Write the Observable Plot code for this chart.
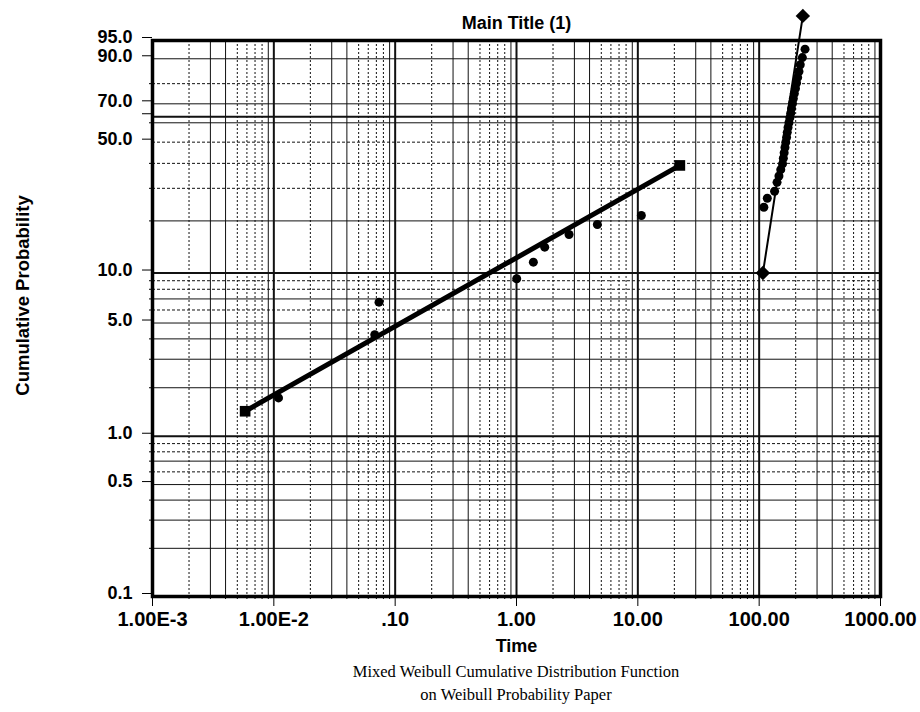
<!DOCTYPE html>
<html>
<head>
<meta charset="utf-8">
<script src="https://cdn.jsdelivr.net/npm/d3@7"></script>
<script src="https://cdn.jsdelivr.net/npm/@observablehq/plot@0.6"></script>
<style>
  html, body { margin: 0; padding: 0; background: #fff; }
  #chart { width: 920px; }
  .caption {
    width: 808px;
    padding-left: 112px;
    text-align: center;
    font-family: "Liberation Serif", "Times New Roman", serif;
    font-size: 16.5px;
    line-height: 23px;
    color: #000;
  }
</style>
</head>
<body>
<div id="chart"></div>
<div class="caption">Mixed Weibull Cumulative Distribution Function<br>on Weibull Probability Paper</div>
<script>
// Failure times and cumulative probabilities (%), early-failure subpopulation
const earlyTime = [0.01093, 0.0679, 0.0736, 1.004, 1.377, 1.708, 2.71, 4.64, 10.69];
const earlyProb = [1.73, 4.24, 6.69, 9.25, 11.59, 14.18, 16.77, 19.10, 21.43];

// Wear-out subpopulation
const lateTime = [109.3, 116.7, 134.0, 140.4, 145.6, 150.6, 155.9, 158.2, 160.7, 163.2, 165.6,
  168.2, 170.4, 173.0, 176.0, 179.0, 182.1, 184.9, 188.1, 191.3, 195.0, 199.1, 203.3, 207.6,
  212.8, 218.1, 226.9, 238.8];
const lateProb = [23.80, 26.61, 28.98, 32.2, 34.7, 37.3, 39.8, 42.3, 44.8, 47.4, 49.9,
  52.4, 55.0, 57.5, 60.0, 62.6, 65.1, 67.6, 70.2, 72.7, 75.2, 77.7, 80.3, 82.8,
  85.3, 87.9, 90.4, 92.9];

// Fitted Weibull lines (end points)
const earlyFitTime = [0.0058, 22.2];
const earlyFitProb = [1.43, 39.1];
const lateFitTime = [107.3, 229.1];
const lateFitProb = [10.0, 98.6];

// Axis ticks and labels
const xTicks = [0.001, 0.01, 0.1, 1, 10, 100, 1000];
const xTickLabels = ["1.00E-3", "1.00E-2", ".10", "1.00", "10.00", "100.00", "1000.00"];
const yTicks = [0.1, 0.5, 1, 5, 10, 50, 70, 90, 95];
const yTickLabels = ["0.1", "0.5", "1.0", "5.0", "10.0", "50.0", "70.0", "90.0", "95.0"];

// Probability paper rulings (%)
const yGridSolid = [0.2, 0.3, 0.4, 0.5, 0.7, 2, 3, 4, 5, 7, 20, 60, 70, 90];
const yGridDotted = [0.6, 0.8, 0.9, 6, 8, 9, 30, 40, 50, 80];
const yGridHeavy = [1, 10, 63.2];
const xMinorSolid = [3, 4, 9];
const xMinorDotted = [2, 5, 6, 7, 8];

// Weibull probability transform
const wb = p => Math.log(-Math.log(1 - p / 100));

const decadesBelow = xTicks.slice(0, -1);
const minor = ks => decadesBelow.flatMap(d => ks.map(k => k * d));

const toRows = (ts, ps) => ts.map((t, i) => ({t, p: ps[i]}));
const early = toRows(earlyTime, earlyProb);
const late = toRows(lateTime, lateProb);
const earlyFit = toRows(earlyFitTime, earlyFitProb);
const lateFit = toRows(lateFitTime, lateFitProb);

const xLabel = new Map(xTicks.map((v, i) => [v, xTickLabels[i]]));
const yMajor = [...yTicks, 63.2].map(wb);
const yLabel = new Map(yTicks.map((v, i) => [wb(v), yTickLabels[i]]));
const yMinor = [...yGridSolid, ...yGridDotted].filter(p => !yTicks.includes(p)).map(wb);
const xMinorAll = minor([2, 3, 4, 5, 6, 7, 8, 9]);

const ink = "#111";

const chart = Plot.plot({
  width: 920,
  height: 660,
  marginLeft: 152,
  marginRight: 40,
  marginTop: 40,
  marginBottom: 64,
  x: {type: "log", domain: [0.001, 1000]},
  y: {domain: [wb(0.1), wb(95)]},
  style: {
    fontFamily: "'Liberation Sans', Arial, sans-serif",
    fontSize: "18px",
    fontWeight: "bold",
    color: "#000",
    background: "#fff",
    overflow: "visible"
  },
  marks: [
    // paper rulings
    Plot.ruleX(minor(xMinorSolid), {stroke: ink, strokeWidth: 1}),
    Plot.ruleX(minor(xMinorDotted), {stroke: ink, strokeWidth: 1, strokeDasharray: "2,2"}),
    Plot.ruleX(xTicks, {stroke: ink, strokeWidth: 2}),
    Plot.ruleY(yGridSolid.map(wb), {stroke: ink, strokeWidth: 1}),
    Plot.ruleY(yGridDotted.map(wb), {stroke: ink, strokeWidth: 1, strokeDasharray: "3,2"}),
    Plot.ruleY(yGridHeavy.map(wb), {stroke: ink, strokeWidth: 2}),
    Plot.frame({stroke: "#000", strokeWidth: 3.5}),

    // axes
    Plot.axisX(xTicks, {tickSize: 10, tickPadding: 5, fontSize: 20, tickFormat: d => xLabel.get(d), label: null}),
    Plot.axisX(xMinorAll, {tickSize: 3, tickFormat: () => "", label: null}),
    Plot.axisY(yMajor, {tickSize: 10, tickPadding: 10, dy: -3, tickFormat: d => yLabel.get(d) ?? "", label: null}),
    Plot.axisY(yMinor, {tickSize: 3, tickFormat: () => "", label: null}),

    // fitted lines
    Plot.line(earlyFit, {x: "t", y: d => wb(d.p), stroke: "#000", strokeWidth: 5}),
    Plot.dot(earlyFit, {x: "t", y: d => wb(d.p), symbol: "square", r: 6, fill: "#000"}),
    Plot.line(lateFit, {x: "t", y: d => wb(d.p), stroke: "#000", strokeWidth: 2}),
    Plot.dot(lateFit, {x: "t", y: d => wb(d.p), symbol: "diamond2", r: 6.5, fill: "#000"}),

    // observed failures
    Plot.dot(early, {x: "t", y: d => wb(d.p), r: 4.5, fill: "#000"}),
    Plot.dot(late, {x: "t", y: d => wb(d.p), r: 4.5, fill: "#000"}),

    // titles
    Plot.text(["Main Title (1)"], {frameAnchor: "top", lineAnchor: "middle", dy: -17, fontSize: 18}),
    Plot.text(["Time"], {frameAnchor: "bottom", lineAnchor: "middle", dy: 50, fontSize: 18}),
    Plot.text(["Cumulative Probability"], {frameAnchor: "left", textAnchor: "middle", lineAnchor: "middle", rotate: -90, dx: -129, dy: -23, fontSize: 18.5})
  ]
});

document.getElementById("chart").append(chart);
</script>
</body>
</html>
